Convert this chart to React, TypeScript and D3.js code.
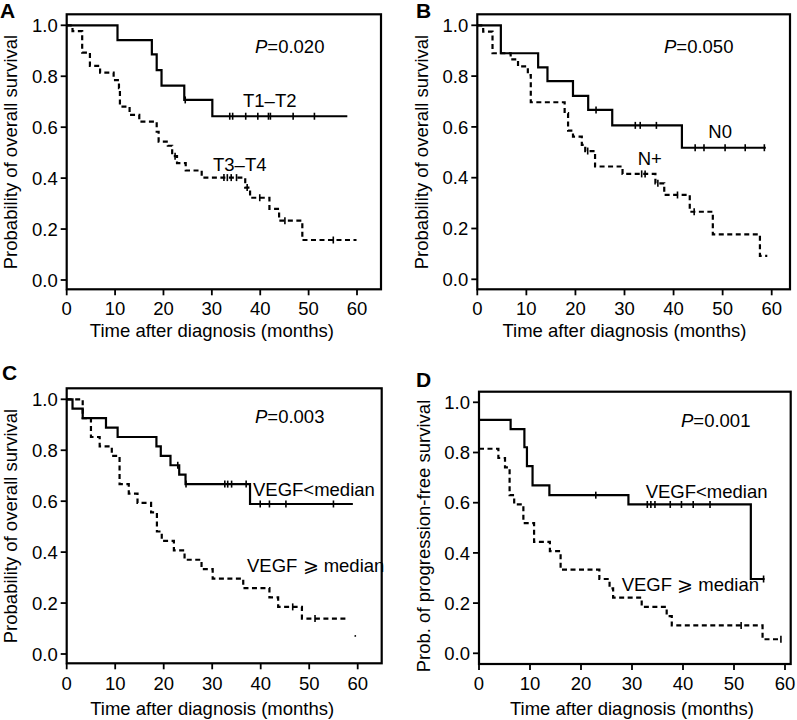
import React from "react";
import * as d3 from "d3";

const FONT = "'Liberation Sans', Arial, Helvetica, sans-serif";

// ---- shared axis values ----
const xTicks = [0, 10, 20, 30, 40, 50, 60];
const yTicks = [0, 0.2, 0.4, 0.6, 0.8, 1.0];

// ---- Panel A: T stage ----
const aSolidStart = 1.0;
const aSolidTimes = [10.5, 17.6, 18.6, 19.6, 24.3, 30.1];
const aSolidSurv = [0.942, 0.886, 0.824, 0.763, 0.707, 0.643];
const aSolidCensor = [24.5, 33.7, 34.3, 37.0, 39.5, 41.7, 42.1, 46.8, 51.2];
const aSolidEnd = 58;
const aDashStart = 1.0;
const aDashTimes = [1.2, 3.2, 4.8, 6.9, 9.7, 10.8, 11.0, 13.0, 15.0, 18.6, 19.0, 20.9, 21.8, 22.8, 24.6, 27.9, 36.9, 37.9, 41.9, 43.9, 48.7];
const aDashSurv = [0.977, 0.893, 0.841, 0.814, 0.785, 0.753, 0.681, 0.648, 0.622, 0.582, 0.543, 0.527, 0.486, 0.459, 0.43, 0.402, 0.363, 0.323, 0.279, 0.233, 0.157];
const aDashCensor = [22.4, 32.5, 33.2, 34.0, 35.1, 37.3, 39.9, 45.1, 55.1];
const aDashEnd = 59.9;

// ---- Panel B: N stage ----
const bSolidStart = 1.0;
const bSolidTimes = [4.8, 12.4, 14.3, 19.5, 22.6, 27.5, 41.7];
const bSolidSurv = [0.89, 0.834, 0.78, 0.722, 0.667, 0.606, 0.518];
const bSolidCensor = [24.2, 32.2, 33.2, 36.5, 44.4, 46.2, 50.5, 54.6, 58.5];
const bSolidEnd = 58.8;
const bDashStart = 1.0;
const bDashTimes = [1.2, 3.1, 6.8, 8.3, 10.3, 10.9, 17.8, 18.5, 19.5, 21.3, 22.0, 24.0, 29.6, 36.3, 38.1, 43.3, 48.0, 57.6];
const bDashSurv = [0.975, 0.89, 0.866, 0.838, 0.804, 0.697, 0.654, 0.585, 0.562, 0.529, 0.505, 0.444, 0.415, 0.378, 0.332, 0.266, 0.177, 0.092];
const bDashCensor = [22.5, 33.5, 34.2, 36.8, 40.8, 44.2];
const bDashEnd = 59.1;

// ---- Panel C: VEGF, overall survival ----
const cSolidStart = 1.0;
const cSolidTimes = [1.2, 3.3, 8.1, 10.5, 18.5, 19.4, 21.4, 23.2, 24.5, 37.8];
const cSolidSurv = [0.963, 0.926, 0.889, 0.852, 0.815, 0.778, 0.741, 0.704, 0.667, 0.589];
const cSolidCensor = [22.9, 24.6, 32.6, 33.2, 34.0, 37.0, 39.9, 41.8, 45.2, 55.0];
const cSolidEnd = 59.0;
const cDashStart = 1.0;
const cDashTimes = [3.3, 5.0, 6.8, 9.3, 10.9, 12.8, 14.6, 17.4, 18.6, 19.6, 22.1, 24.3, 27.8, 30.1, 36.4, 41.8, 43.6, 48.5];
const cDashSurv = [0.926, 0.852, 0.815, 0.778, 0.667, 0.63, 0.593, 0.556, 0.481, 0.444, 0.407, 0.37, 0.333, 0.296, 0.259, 0.222, 0.185, 0.139];
const cDashCensor = [46.6, 51.2];
const cDashEnd = 57.9;
const cDashDot = [59.5, 0.071];

// ---- Panel D: VEGF, progression-free survival ----
const dSolidStart = 0.93;
const dSolidTimes = [6.2, 8.9, 9.4, 10.5, 13.8, 29.3, 53.3];
const dSolidSurv = [0.893, 0.821, 0.746, 0.669, 0.63, 0.593, 0.296];
const dSolidCensor = [22.9, 33.0, 33.7, 34.5, 37.5, 39.7, 42.0, 45.3, 55.8];
const dSolidEnd = 56.0;
const dDashStart = 0.815;
const dDashTimes = [3.8, 5.1, 6.0, 6.9, 8.7, 10.8, 13.9, 16.0, 23.6, 25.6, 26.3, 31.9, 36.8, 37.8, 55.6];
const dDashSurv = [0.778, 0.741, 0.63, 0.593, 0.519, 0.444, 0.407, 0.333, 0.296, 0.259, 0.222, 0.185, 0.148, 0.111, 0.056];
const dDashCensor = [51.4, 59.2];
const dDashEnd = 59.3;

// ---- texts ----
const panelLetters = ["A", "B", "C", "D"];
const pValues = ["=0.020", "=0.050", "=0.003", "=0.001"];
const yTitles = [
  "Probability of overall survival",
  "Probability of overall survival",
  "Probability of overall survival",
  "Prob. of progression-free survival",
];
const xTitle = "Time after diagnosis (months)";
const solidLabels = ["T1\u2013T2", "N0", "VEGF<median", "VEGF<median"];
const dashLabels = ["T3\u2013T4", "N+", "VEGF \u2A7E median", "VEGF \u2A7E median"];

type Curve = { start: number; times: number[]; surv: number[]; censor: number[]; end: number };

const curves: { solid: Curve; dash: Curve; dot?: number[] }[] = [
  {
    solid: { start: aSolidStart, times: aSolidTimes, surv: aSolidSurv, censor: aSolidCensor, end: aSolidEnd },
    dash: { start: aDashStart, times: aDashTimes, surv: aDashSurv, censor: aDashCensor, end: aDashEnd },
  },
  {
    solid: { start: bSolidStart, times: bSolidTimes, surv: bSolidSurv, censor: bSolidCensor, end: bSolidEnd },
    dash: { start: bDashStart, times: bDashTimes, surv: bDashSurv, censor: bDashCensor, end: bDashEnd },
  },
  {
    solid: { start: cSolidStart, times: cSolidTimes, surv: cSolidSurv, censor: cSolidCensor, end: cSolidEnd },
    dash: { start: cDashStart, times: cDashTimes, surv: cDashSurv, censor: cDashCensor, end: cDashEnd },
    dot: cDashDot,
  },
  {
    solid: { start: dSolidStart, times: dSolidTimes, surv: dSolidSurv, censor: dSolidCensor, end: dSolidEnd },
    dash: { start: dDashStart, times: dDashTimes, surv: dDashSurv, censor: dDashCensor, end: dDashEnd },
  },
];

// ---- layout (pixels) ----
const layouts = [
  { box: [66.7, 14.3, 381, 289.3], x: [66.7, 357], y: [280, 25.3], letter: [0, 18.3], p: [255, 53], yt: [16.5, 152], tickY: 315, titleY: 337, solidL: [243, 107], dashL: [213, 171] },
  { box: [477.3, 14.3, 790, 289.3], x: [477.3, 771.7], y: [279.3, 25.3], letter: [416, 18.3], p: [664, 53.3], yt: [428, 152], tickY: 315, titleY: 337, solidL: [708.3, 138.3], dashL: [637.7, 165] },
  { box: [66.7, 388.3, 381.7, 663.3], x: [66.7, 357.7], y: [654, 399.3], letter: [2, 380], p: [255, 423.3], yt: [16.5, 526], tickY: 690, titleY: 715, solidL: [253, 496], dashL: [247, 571.7] },
  { box: [479, 391.7, 790.7, 664], x: [479, 785], y: [653.3, 402.3], letter: [416, 386.7], p: [681, 426.7], yt: [429.5, 536], tickY: 690, titleY: 715, solidL: [645.7, 497.7], dashL: [621.7, 590.7] },
];

function survAt(c: Curve, t: number) {
  let s = c.start;
  for (let i = 0; i < c.times.length; i++) if (c.times[i] <= t) s = c.surv[i];
  return s;
}

function KMCurve({ c, xs, ys, dashed }: { c: Curve; xs: any; ys: any; dashed: boolean }) {
  const pts: [number, number][] = [[0, c.start]];
  c.times.forEach((t, i) => pts.push([t, c.surv[i]]));
  pts.push([c.end, c.surv[c.surv.length - 1]]);
  const line = d3
    .line<[number, number]>()
    .x((d) => xs(d[0]))
    .y((d) => ys(d[1]))
    .curve(d3.curveStepAfter);
  return (
    <g>
      <path d={line(pts) || ""} fill="none" stroke="#000" strokeWidth={2.2} strokeDasharray={dashed ? "5,3.5" : undefined} />
      {c.censor.map((t, i) => {
        const x = xs(t);
        const y = ys(survAt(c, t));
        return <line key={i} x1={x} x2={x} y1={y - 3.5} y2={y + 3.5} stroke="#000" strokeWidth={1.6} />;
      })}
    </g>
  );
}

function Panel({ idx }: { idx: number }) {
  const L = layouts[idx];
  const xs = d3.scaleLinear().domain([0, 60]).range(L.x);
  const ys = d3.scaleLinear().domain([0, 1]).range(L.y);
  const [bx0, by0, bx1, by1] = L.box;
  const fmt = d3.format(".1f");
  const cv = curves[idx];
  return (
    <g fontFamily={FONT} fill="#000">
      <text x={L.letter[0]} y={L.letter[1]} fontSize={21} fontWeight="bold">{panelLetters[idx]}</text>
      <rect x={bx0} y={by0} width={bx1 - bx0} height={by1 - by0} fill="none" stroke="#000" strokeWidth={2.2} />
      {yTicks.map((v) => (
        <g key={"y" + v}>
          <line x1={bx0 - 6} x2={bx0} y1={ys(v)} y2={ys(v)} stroke="#000" strokeWidth={1.8} />
          <text x={bx0 - 9} y={ys(v)} dy="0.36em" textAnchor="end" fontSize={18.5}>{fmt(v)}</text>
        </g>
      ))}
      {xTicks.map((v) => (
        <g key={"x" + v}>
          <line x1={xs(v)} x2={xs(v)} y1={by1} y2={by1 + 6} stroke="#000" strokeWidth={1.8} />
          <text x={xs(v)} y={L.tickY} textAnchor="middle" fontSize={18.5}>{v}</text>
        </g>
      ))}
      <text x={(xs(0) + xs(60)) / 2} y={L.titleY} textAnchor="middle" fontSize={18.5}>{xTitle}</text>
      <text transform={`translate(${L.yt[0]},${L.yt[1]}) rotate(-90)`} textAnchor="middle" fontSize={18.5}>{yTitles[idx]}</text>
      <text x={L.p[0]} y={L.p[1]} fontSize={18.5}>
        <tspan fontStyle="italic">P</tspan>
        <tspan>{pValues[idx]}</tspan>
      </text>
      <text x={L.solidL[0]} y={L.solidL[1]} fontSize={18.5}>{solidLabels[idx]}</text>
      <text x={L.dashL[0]} y={L.dashL[1]} fontSize={18.5}>{dashLabels[idx]}</text>
      <KMCurve c={cv.solid} xs={xs} ys={ys} dashed={false} />
      <KMCurve c={cv.dash} xs={xs} ys={ys} dashed={true} />
      {cv.dot && <circle cx={xs(cv.dot[0])} cy={ys(cv.dot[1])} r={0.9} fill="#000" />}
    </g>
  );
}

export default function App() {
  return (
    <div style={{ position: "absolute", left: 0, top: 0 }}>
      <svg width={797} height={720} viewBox="0 0 797 720" style={{ display: "block", background: "#fff" }}>
        <rect x={0} y={0} width={797} height={720} fill="#fff" />
        {[0, 1, 2, 3].map((i) => (
          <Panel key={i} idx={i} />
        ))}
      </svg>
    </div>
  );
}
